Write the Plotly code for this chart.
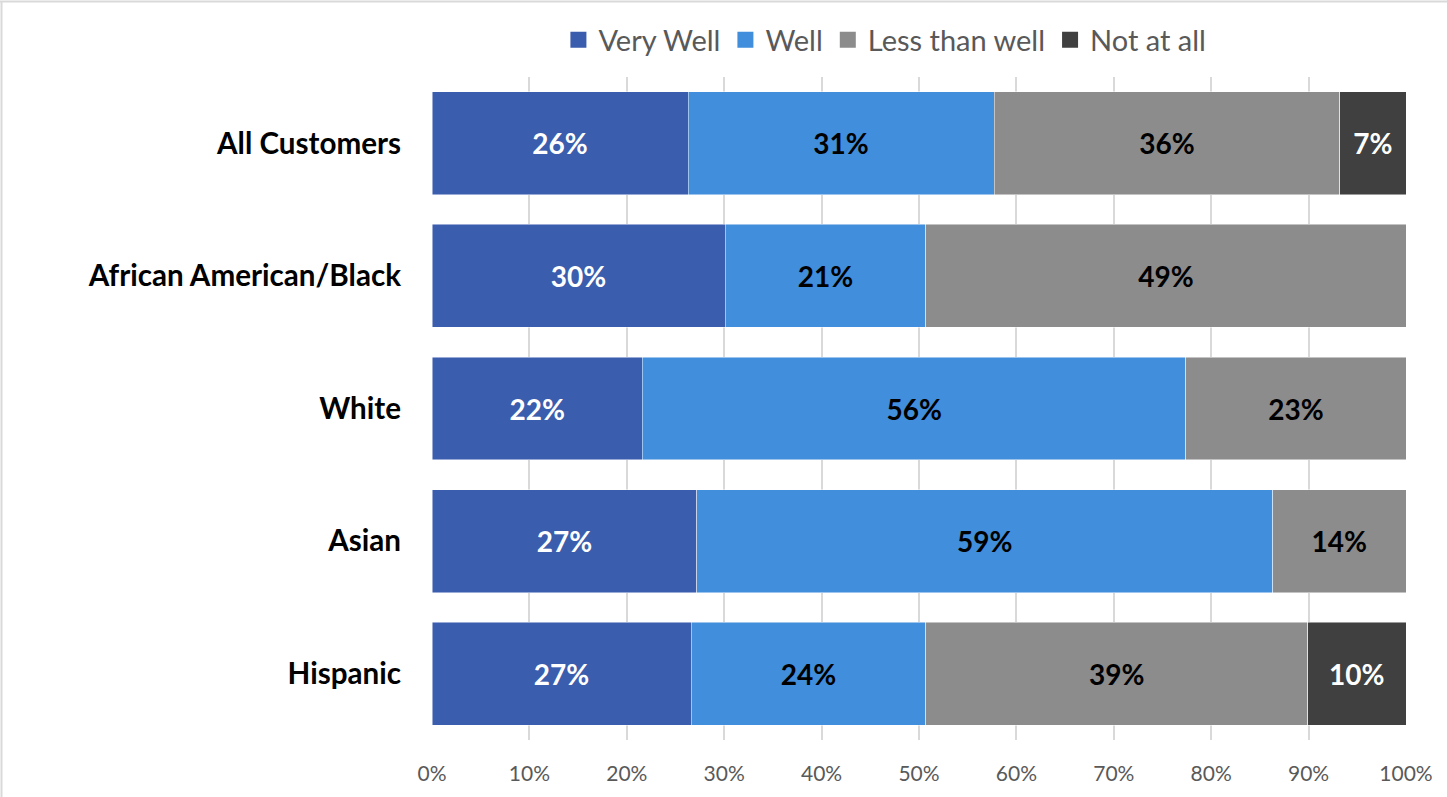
import plotly.graph_objects as go

groups = ["All Customers", "African American/Black", "White", "Asian", "Hispanic"]
very_well = [26.3, 30.1, 21.6, 27.2, 26.6]
well = [31.4, 20.6, 55.8, 59.1, 24.1]
less_than_well = [35.5, 49.3, 22.6, 13.7, 39.2]
not_at_all = [6.8, 0.0, 0.0, 0.0, 10.1]

series = [
    ("Very Well", very_well, "#3A5DAE", "white"),
    ("Well", well, "#418EDD", "black"),
    ("Less than well", less_than_well, "#8C8C8C", "black"),
    ("Not at all", not_at_all, "#404040", "white"),
]

FONT = "Lato"

fig = go.Figure()
for name, vals, color, txt_color in series:
    labels = [f"{v:.0f}%" if v > 0 else "" for v in vals]
    fig.add_trace(go.Bar(
        name=name,
        y=groups,
        x=vals,
        orientation="h",
        marker=dict(color=color, line=dict(color="rgba(255,255,255,0.6)", width=0.8)),
        text=labels,
        texttemplate="%{text}",
        textposition="inside",
        insidetextanchor="middle",
        textangle=0,
        textfont=dict(family=FONT, size=28, color=txt_color, weight="bold"),
        hoverinfo="x+y+name",
        showlegend=False,
    ))

# legend entries with larger square swatches
for name, _, color, _ in series:
    fig.add_trace(go.Scatter(
        name=name,
        x=[None], y=[None],
        mode="markers",
        marker=dict(symbol="square", size=20, color=color),
        showlegend=True,
        hoverinfo="skip",
    ))

fig.update_layout(
    barmode="stack",
    bargap=0.224,
    width=1447,
    height=797,
    margin=dict(l=432, r=41, t=77, b=57, autoexpand=False),
    paper_bgcolor="white",
    plot_bgcolor="white",
    uniformtext=dict(mode="show", minsize=10),
    legend=dict(
        orientation="h",
        x=0.465, xref="paper", xanchor="center",
        y=1 - 40 / 797, yref="container", yanchor="middle",
        font=dict(family=FONT, size=29, color="#595959"),
        itemwidth=30,
        traceorder="normal",
    ),
    xaxis=dict(
        range=[0, 100],
        tickvals=[0, 10, 20, 30, 40, 50, 60, 70, 80, 90, 100],
        ticktext=[f"{t}%" for t in range(0, 101, 10)],
        showgrid=True,
        gridcolor="#D9D9D9",
        gridwidth=1.5,
        zeroline=False,
        showline=False,
        tickfont=dict(family=FONT, size=21, color="#595959"),
        ticks="",
        ticklabelstandoff=19,
    ),
    yaxis=dict(
        autorange="reversed",
        showgrid=False,
        showline=False,
        tickfont=dict(family=FONT, size=29.6, color="black", weight="bold"),
        ticks="",
        ticklabelstandoff=30,
    ),
    shapes=[
        dict(type="line", xref="paper", yref="paper",
             x0=-430.5 / 974, x1=-430.5 / 974, y0=-60 / 663, y1=1 + 76 / 663,
             line=dict(color="#D9D9D9", width=2)),
        dict(type="line", xref="paper", yref="paper",
             x0=-432 / 974, x1=1 + 45 / 974, y0=1 + 75.5 / 663, y1=1 + 75.5 / 663,
             line=dict(color="#D9D9D9", width=2)),
    ],
)

fig.write_html("out.html")
